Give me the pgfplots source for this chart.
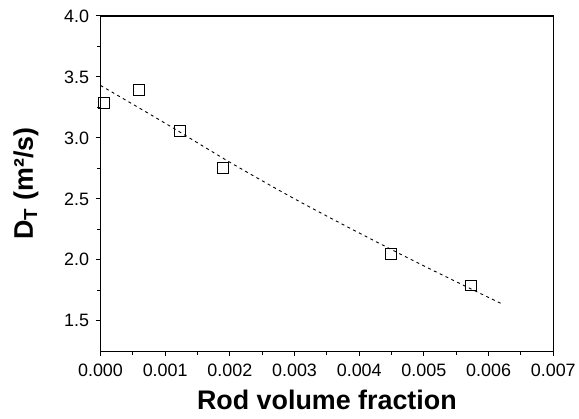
\documentclass[border=0pt]{standalone}
\usepackage{fontspec}
\setmainfont{Liberation Sans}
\usepackage{pgfplots}
\pgfplotsset{compat=1.18}

\begin{document}
\begin{tikzpicture}
\begin{axis}[
  scale only axis,
  width=455pt, height=337pt,
  xmin=0, xmax=0.007,
  ymin=1.25, ymax=4.0,
  xtick={0,0.001,...,0.007},
  ytick={1.5,2.0,...,4.0},
  minor x tick num=1,
  minor y tick num=1,
  xtick pos=left, ytick pos=left,
  tick align=outside,
  major tick length=5pt, minor tick length=3.5pt,
  axis line style={line width=1.3pt},
  every tick/.style={black, line width=0.9pt},
  scaled x ticks=false,
  xticklabel style={yshift=-4pt, /pgf/number format/.cd, fixed, fixed zerofill, precision=3},
  yticklabel style={xshift=-3pt, /pgf/number format/.cd, fixed, fixed zerofill, precision=1},
  /pgf/number format/assume math mode=true,
  tick label style={font=\fontsize{18}{21}\selectfont},
  xlabel={\textbf{Rod volume fraction}},
  ylabel={\textbf{D\textsubscript{T} (m²/s)}},
  label style={font=\fontsize{27}{30}\selectfont},
  xlabel style={yshift=-7pt},
  ylabel style={yshift=19pt},
]
\addplot[black, line width=0.9pt, dash pattern=on 3pt off 3.5pt, smooth] coordinates {
  (0,3.43) (0.001,3.12) (0.002,2.80) (0.003,2.50) (0.004,2.22) (0.005,1.95) (0.0062,1.64)
};
\addplot[only marks, mark=square, mark size=5.5pt, mark options={black, line width=0.9pt}] coordinates {
  (0.00005,3.29) (0.0006,3.39) (0.00123,3.06) (0.00189,2.75) (0.00449,2.05) (0.00572,1.79)
};
\end{axis}
\path[use as bounding box] (current axis.south west) ++(-101pt,-68pt) rectangle ([xshift=23pt,yshift=16pt]current axis.north east);
\end{tikzpicture}
\end{document}
